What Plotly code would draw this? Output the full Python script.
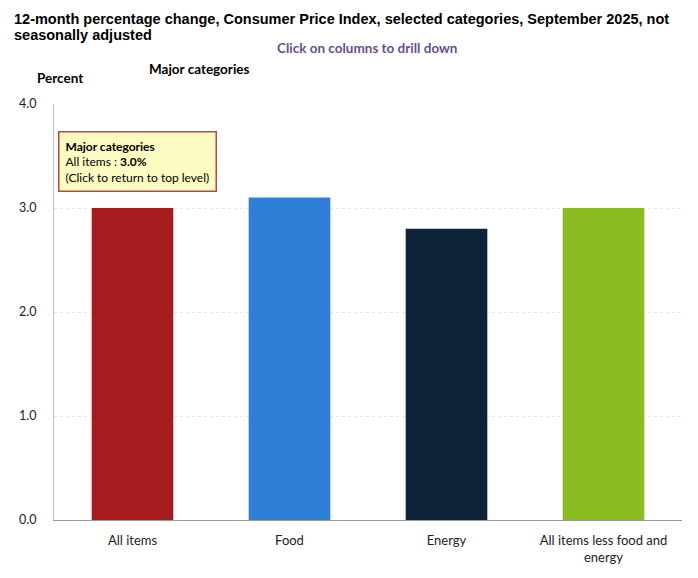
import plotly.graph_objects as go

# Data
categories = ["All items", "Food", "Energy", "All items less food and<br>energy"]
values = [3.0, 3.1, 2.8, 3.0]
bar_colors = ["#a61b1e", "#2f7ed8", "#0d233a", "#8bbc21"]
y_ticks = [0.0, 1.0, 2.0, 3.0, 4.0]
title_lines = [
    "12-month percentage change, Consumer Price Index, selected categories, September 2025, not",
    "seasonally adjusted",
]

# the page body adds an 8px margin, so everything is laid out 8px in
OFF = 8
W, H = 682, 562
L, R, T, B = 46, 8, 96, 50
pw, ph = W - L - R, H - T - B


def px(x):
    return (x - OFF - L) / pw


def py(y):
    return (H - B - (y - OFF)) / ph


fig = go.Figure()
fig.add_trace(go.Bar(
    x=categories, y=values,
    marker=dict(color=bar_colors, line=dict(width=0)),
    width=0.52,
    hoverinfo="skip",
))

fig.update_layout(
    width=W, height=H,
    margin=dict(l=L, r=R, t=T, b=B),
    plot_bgcolor="white", paper_bgcolor="white",
    showlegend=False,
    font=dict(family="Lato", size=12, color="#222222"),
    xaxis=dict(
        showgrid=False, showline=True, linecolor="#999999", linewidth=1,
        ticks="", ticklabelstandoff=8, automargin=False,
        tickfont=dict(family="Lato", size=13, color="#222222"),
    ),
    yaxis=dict(
        range=[0, 4], tickvals=y_ticks, tickformat=".1f",
        showgrid=True, gridcolor="#e6e6e6", griddash="3px,3px", gridwidth=1,
        showline=True, linecolor="#c0c0c0", linewidth=1,
        zeroline=False, ticks="", ticklabelstandoff=14, automargin=False,
        tickfont=dict(family="Lato", size=12.5, color="#222222"),
    ),
)

# chart title, one annotation per line
for line, yc in zip(title_lines, [19, 35]):
    fig.add_annotation(
        text="<b>" + line + "</b>",
        xref="paper", yref="paper", x=px(12), y=py(yc),
        xanchor="left", yanchor="middle", showarrow=False,
        font=dict(family="Liberation Sans", size=14.5, color="#000000"),
    )
fig.add_annotation(
    text="<b>Click on columns to drill down</b>",
    xref="paper", yref="paper", x=px(367), y=py(48),
    xanchor="center", yanchor="middle", showarrow=False,
    font=dict(family="Lato", size=13.5, color="#6b4d8f"),
)
fig.add_annotation(
    text="<b>Percent</b>",
    xref="paper", yref="paper", x=px(35), y=py(78),
    xanchor="left", yanchor="middle", showarrow=False,
    font=dict(family="Lato", size=13.5, color="#000000"),
)
fig.add_annotation(
    text="<b>Major categories</b>",
    xref="paper", yref="paper", x=px(147), y=py(69),
    xanchor="left", yanchor="middle", showarrow=False,
    font=dict(family="Lato", size=13.5, color="#000000"),
)
# tooltip-style box
fig.add_annotation(
    text="<b>Major categories</b><br>All items : <b>3.0%</b><br>(Click to return to top level)",
    xref="paper", yref="paper", x=px(58), y=py(131),
    xanchor="left", yanchor="top", showarrow=False, align="left",
    bgcolor="#fcfcc2", bordercolor="#b5474a", borderwidth=1.5, borderpad=6,
    font=dict(family="Lato", size=12, color="#000000"),
)

fig.write_html("out.html")
